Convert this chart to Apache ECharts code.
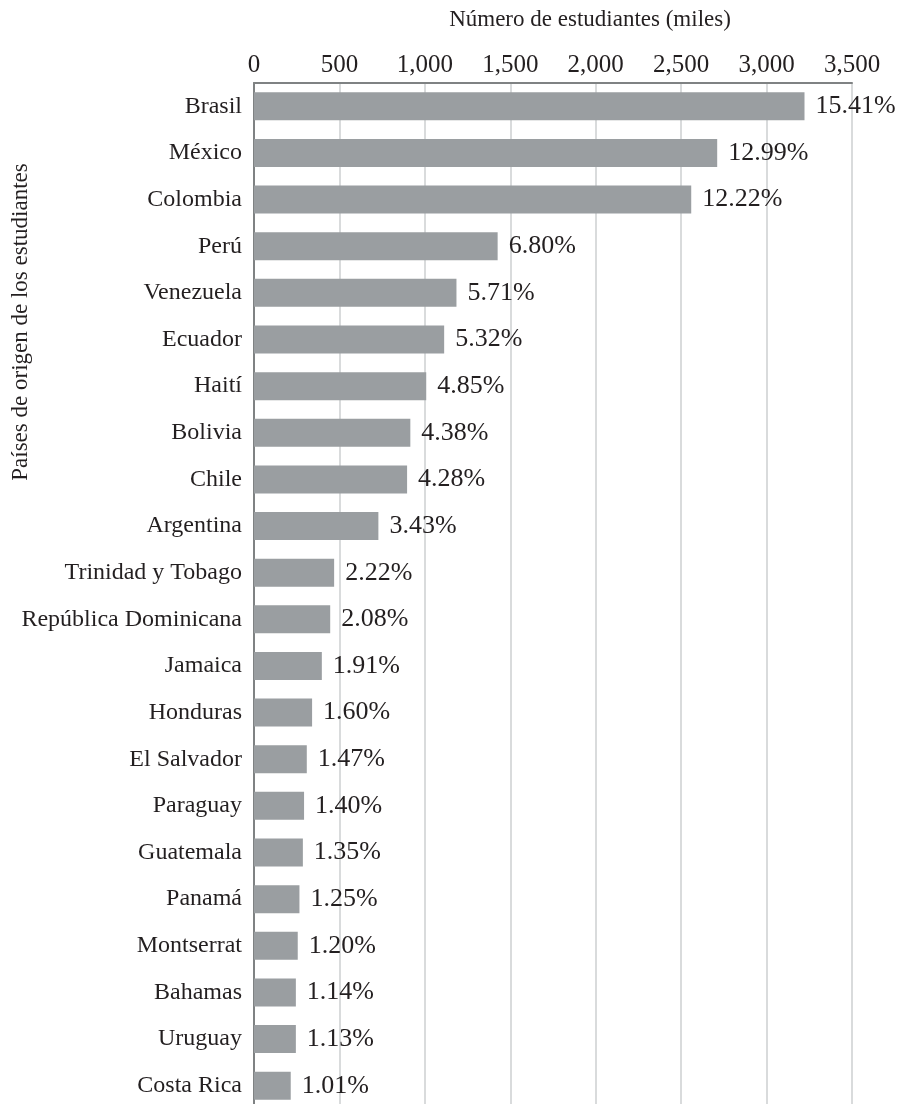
<!DOCTYPE html>
<html>
<head>
<meta charset="utf-8">
<script src="https://cdn.jsdelivr.net/npm/echarts@6/dist/echarts.min.js"></script>
<style>
  html, body { margin: 0; padding: 0; background: #fff; }
  #chart { width: 902px; height: 1104px; }
</style>
</head>
<body>
<div id="chart"></div>
<script>
// countries, top to bottom
var paises = ['Brasil', 'México', 'Colombia', 'Perú', 'Venezuela', 'Ecuador', 'Haití',
  'Bolivia', 'Chile', 'Argentina', 'Trinidad y Tobago', 'República Dominicana', 'Jamaica',
  'Honduras', 'El Salvador', 'Paraguay', 'Guatemala', 'Panamá', 'Montserrat', 'Bahamas',
  'Uruguay', 'Costa Rica'];
// students, thousands
var estudiantes = [3222, 2711, 2559, 1426, 1185, 1113, 1008, 915, 896, 728, 469, 446, 397,
  340, 309, 293, 286, 266, 256, 245, 245, 215];
// share labels
var porcentajes = ['15.41%', '12.99%', '12.22%', '6.80%', '5.71%', '5.32%', '4.85%', '4.38%',
  '4.28%', '3.43%', '2.22%', '2.08%', '1.91%', '1.60%', '1.47%', '1.40%', '1.35%', '1.25%',
  '1.20%', '1.14%', '1.13%', '1.01%'];

var fuente = '"Liberation Serif", "DejaVu Serif", serif';
var tinta = '#231f20';

var chart = echarts.init(document.getElementById('chart'));
chart.setOption({
  animation: false,
  textStyle: { fontFamily: fuente },
  grid: { left: 254, top: 83, width: 598, height: 1026, containLabel: false, outerBoundsMode: 'none' },
  xAxis: {
    type: 'value',
    position: 'top',
    min: 0,
    max: 3500,
    interval: 500,
    name: 'Número de estudiantes (miles)',
    nameLocation: 'middle',
    nameGap: 52,
    nameMoveOverlap: false,
    nameTextStyle: { fontFamily: fuente, fontSize: 23, color: tinta, padding: [0, 0, 0, 74] },
    axisLine: { show: true, lineStyle: { color: '#7f8283', width: 2 } },
    axisTick: { show: false },
    axisLabel: {
      fontFamily: fuente, fontSize: 25, color: tinta, margin: 5,
      formatter: function (v) { return v.toLocaleString('en-US'); }
    },
    splitLine: { show: true, lineStyle: { color: '#d9dbdc', width: 2 } }
  },
  yAxis: {
    type: 'category',
    data: paises,
    inverse: true,
    name: 'Países de origen de los estudiantes',
    nameLocation: 'middle',
    nameRotate: 90,
    nameGap: 222,
    nameMoveOverlap: false,
    nameTextStyle: { fontFamily: fuente, fontSize: 23, color: tinta, padding: [0, 0, 0, 548] },
    axisLine: { show: true, lineStyle: { color: '#7f8283', width: 2 } },
    axisTick: { show: false },
    axisLabel: { fontFamily: fuente, fontSize: 24, color: tinta, margin: 12 },
    splitLine: { show: false }
  },
  series: [{
    type: 'bar',
    data: estudiantes,
    barWidth: 28,
    itemStyle: { color: '#9a9ea1' },
    label: {
      show: true,
      position: 'right',
      distance: 11,
      fontFamily: fuente,
      fontSize: 26,
      color: tinta,
      formatter: function (p) { return porcentajes[p.dataIndex]; }
    }
  }]
});
</script>
</body>
</html>
